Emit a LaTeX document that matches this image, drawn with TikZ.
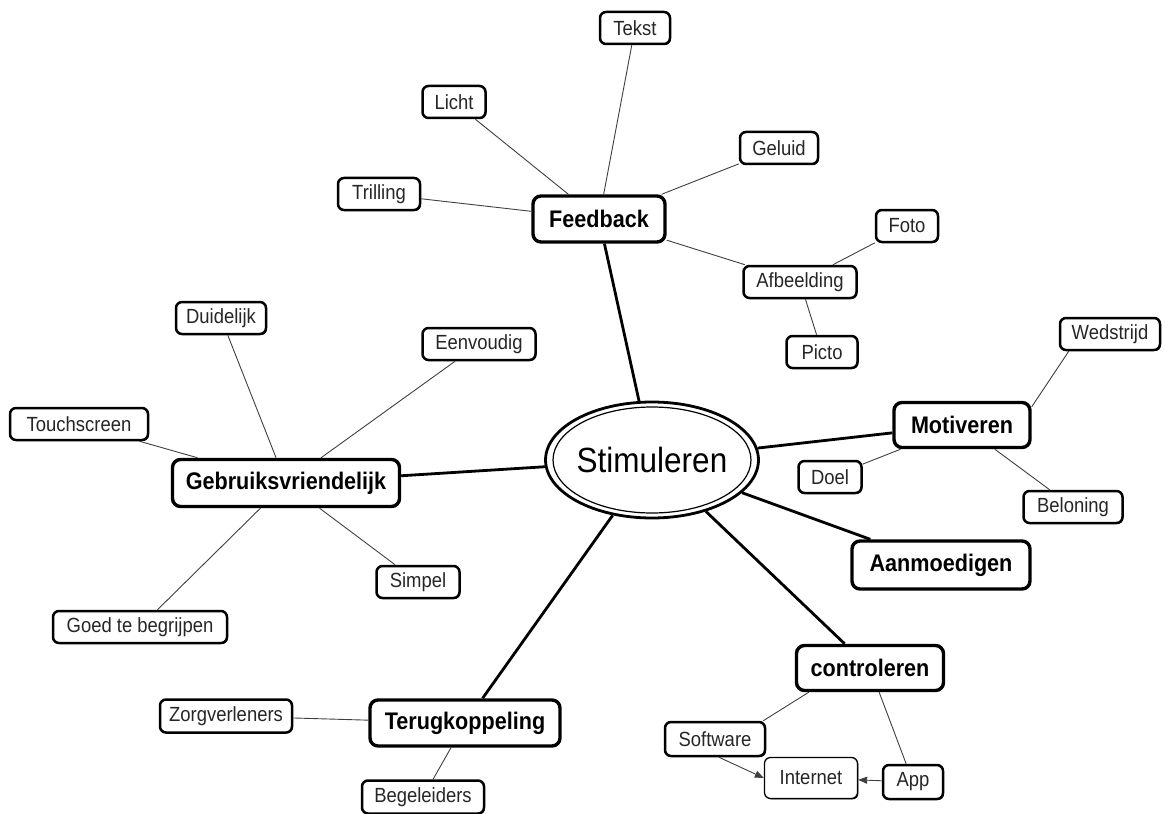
\documentclass[tikz,border=0pt]{standalone}
\usepackage{fontspec}
\setmainfont{Liberation Sans}
\newfontfamily\narrowsans[FakeStretch=0.9]{Liberation Sans}
\usetikzlibrary{shapes.geometric,arrows.meta,shadows}
\begin{document}
\begin{tikzpicture}[x=1pt,y=-1pt,
  leaf/.style={draw=black, line width=2.5pt, rounded corners=6pt, fill=white,
    text=black!85, font=\narrowsans\fontsize{20.5}{22}\selectfont, minimum height=32pt,
    inner sep=0pt,
    drop shadow={shadow xshift=0.9pt, shadow yshift=-0.9pt, opacity=1, fill=black}},
  hub/.style={draw=black, line width=3.4pt, rounded corners=8pt, fill=white,
    font=\narrowsans\bfseries\fontsize{24}{26}\selectfont, minimum height=46pt, inner sep=0pt,
    drop shadow={shadow xshift=0.9pt, shadow yshift=-0.9pt, opacity=1, fill=black}},
  twig/.style={draw=black!75, line width=0.9pt},
  limb/.style={draw=black, line width=2.8pt},
  link/.style={draw=black!75, line width=0.9pt, -{Triangle[length=9pt,width=7pt]}},
]
\fill[white] (0,0) rectangle (1166,813);
\useasboundingbox (0,0) rectangle (1166,813);

% centre
\node[ellipse, draw=black, line width=2.8pt, fill=white, minimum width=208pt,
  minimum height=116pt, inner sep=0pt, font=\narrowsans\fontsize{35}{38}\selectfont] (stim) at (652,460) {Stimuleren};
\draw[line width=1.2pt] (stim.center) ellipse (99pt and 53pt);

% main branches
\node[hub, minimum width=132pt] (feedback) at (599,219) {Feedback};
\node[hub, minimum width=227pt, minimum height=47pt] (gebruik) at (286,483) {Gebruiksvriendelijk};
\node[hub, minimum width=136pt, minimum height=45pt] (motiveren) at (962,425) {Motiveren};
\node[hub, minimum width=178pt, minimum height=48pt] (aanmoedigen) at (941,565) {Aanmoedigen};
\node[hub, minimum width=147pt, minimum height=45pt] (controleren) at (870,668) {controleren};
\node[hub, minimum width=190pt] (terug) at (465,723) {Terugkoppeling};

% feedback leaves
\node[leaf, minimum width=70pt] (tekst) at (635,28) {Tekst};
\node[leaf, minimum width=63pt] (licht) at (454,102) {Licht};
\node[leaf, minimum width=78pt] (geluid) at (779,148) {Geluid};
\node[leaf, minimum width=82pt] (trilling) at (379,194) {Trilling};
\node[leaf, minimum width=62pt] (foto) at (907,226) {Foto};
\node[leaf, minimum width=113pt] (afbeelding) at (800,282) {Afbeelding};
\node[leaf, minimum width=71pt] (picto) at (822,352) {Picto};

% usability leaves
\node[leaf, minimum width=90pt] (duidelijk) at (221,318) {Duidelijk};
\node[leaf, minimum width=113pt] (eenvoudig) at (479,344) {Eenvoudig};
\node[leaf, minimum width=138pt] (touch) at (79,424) {Touchscreen};
\node[leaf, minimum width=83pt] (simpel) at (418,582) {Simpel};
\node[leaf, minimum width=174pt] (goed) at (140,627) {Goed te begrijpen};

% motivation leaves
\node[leaf, minimum width=100pt] (wedstrijd) at (1110,334) {Wedstrijd};
\node[leaf, minimum width=63pt] (doel) at (830,477) {Doel};
\node[leaf, minimum width=99pt] (beloning) at (1073,507) {Beloning};

% control leaves
\node[leaf, minimum width=100pt, minimum height=34pt] (software) at (715,739) {Software};
\node[leaf, minimum width=93pt, minimum height=41pt, line width=1.3pt, drop shadow={opacity=0}] (internet) at (811,778) {Internet};
\node[leaf, minimum width=60pt, minimum height=34pt] (app) at (913,782) {App};

% feedback-loop leaves
\node[leaf, minimum width=132pt, minimum height=33pt] (zorg) at (226,716) {Zorgverleners};
\node[leaf, minimum width=122pt, minimum height=33pt] (begeleiders) at (423,797) {Begeleiders};

% thick spokes from the centre
\draw[limb] (stim) -- (feedback);
\draw[limb] (stim) -- (gebruik);
\draw[limb] (stim) -- (motiveren);
\draw[limb] (stim) -- (aanmoedigen);
\draw[limb] (stim) -- (controleren);
\draw[limb] (stim) -- (terug);

% thin twigs
\draw[twig] (feedback) -- (tekst);
\draw[twig] (feedback) -- (licht);
\draw[twig] (feedback) -- (geluid);
\draw[twig] (feedback) -- (trilling);
\draw[twig] (feedback) -- (afbeelding);
\draw[twig] (afbeelding) -- (foto);
\draw[twig] (afbeelding) -- (picto);

\draw[twig] (gebruik) -- (duidelijk);
\draw[twig] (gebruik) -- (eenvoudig);
\draw[twig] (gebruik) -- (touch);
\draw[twig] (gebruik) -- (simpel);
\draw[twig] (gebruik) -- (goed);

\draw[twig] ([yshift=-6pt]motiveren.north east) -- ([xshift=10pt]wedstrijd.south west);
\draw[twig] (motiveren) -- (doel);
\draw[twig] (motiveren) -- (beloning);

\draw[twig] ([xshift=-3pt]software.north east) -- ([xshift=14pt]controleren.south west);
\draw[twig] (controleren) -- (app);
\draw[link] ([xshift=4pt]software.south) -- (internet.west);
\draw[link] (app) -- (internet);

\draw[twig] (terug) -- (zorg);
\draw[twig] (terug) -- (begeleiders);
\end{tikzpicture}
\end{document}
